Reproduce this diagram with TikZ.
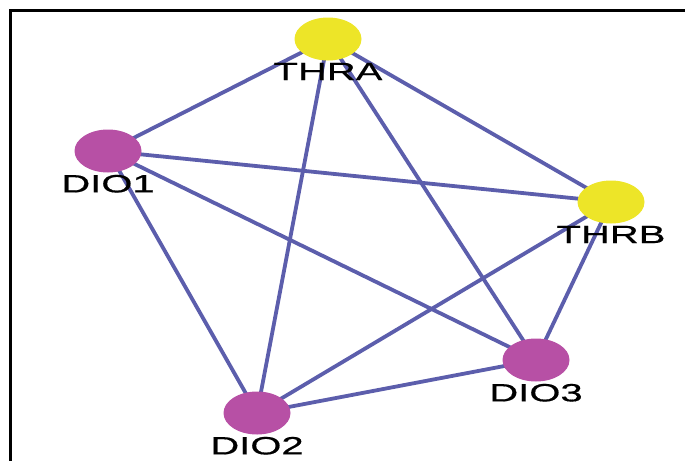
\documentclass[tikz,border=0pt]{standalone}
\usepackage{fontspec}
\setmainfont{Liberation Sans}
\newfontfamily\genefont[FakeStretch=1.6,FakeBold=0.6]{Liberation Sans}
\usetikzlibrary{shapes.geometric,backgrounds}
\definecolor{diopink}{RGB}{183,80,165}
\definecolor{thryellow}{RGB}{237,229,40}
\definecolor{edgeblue}{RGB}{92,94,172}

\begin{document}
\begin{tikzpicture}[x=1pt,y=-1pt,
  gene/.style={ellipse,draw=none,minimum width=67pt,minimum height=43pt,inner sep=0pt,
    label={[font=\genefont\fontsize{25}{25}\selectfont,inner sep=0pt,label distance=2pt]below:#1}},
  dio/.style={gene=#1,fill=diopink},
  thr/.style={gene=#1,fill=thryellow},
  edge/.style={edgeblue,line width=3.8pt}]

\useasboundingbox (0,0) rectangle (685,461);
\draw[line width=3pt] (685,10.5) -- (10.5,10.5) -- (10.5,461);

\node[thr=THRA] (thra) at (328,39) {};
\node[thr=THRB] (thrb) at (611,202) {};
\node[dio=DIO1] (dio1) at (108,151) {};
\node[dio=DIO2] (dio2) at (257,413) {};
\node[dio=DIO3] (dio3) at (536,360) {};

\begin{scope}[on background layer]
\foreach \a/\b in {thra/dio1,thra/thrb,thra/dio2,thra/dio3,dio1/thrb,dio1/dio2,dio1/dio3,thrb/dio2,thrb/dio3,dio2/dio3}
	\draw[edge] (\a.center) -- (\b.center);
\end{scope}

\end{tikzpicture}
\end{document}
